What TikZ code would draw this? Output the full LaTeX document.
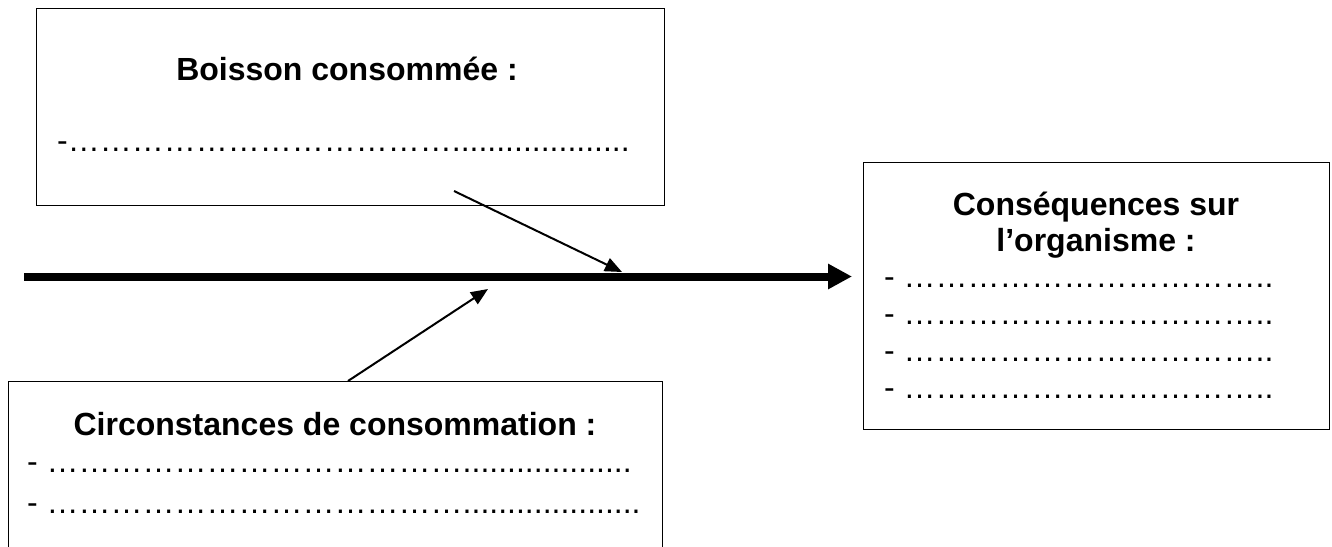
\documentclass[tikz,border=0pt]{standalone}
\usepackage{fontspec}
\setmainfont{Liberation Sans}
\usetikzlibrary{arrows.meta}
\tikzset{
  box/.style={draw=black, line width=1.3pt, fill=white, inner sep=0pt, anchor=north west},
  title/.style={font=\fontsize{32pt}{36pt}\selectfont\bfseries, inner sep=0pt, anchor=base},
  dotline/.style={font=\fontsize{32pt}{36pt}\selectfont, inner sep=0pt, anchor=base west},
  link/.style={line width=2pt, -{Triangle[length=17pt,width=14pt]}},
  spine/.style={line width=8pt, -{Triangle[length=24pt,width=24pt]}}
}
\begin{document}
\begin{tikzpicture}[x=1pt,y=-1pt]
\clip (0,0) rectangle (1332,546);
\fill[white] (0,0) rectangle (1332,546);
% boxes
\node[box, minimum width=628pt, minimum height=197pt] (b1) at (36,8) {};
\node[box, minimum width=466pt, minimum height=267pt] (b2) at (863,162) {};
\node[box, minimum width=654pt, minimum height=240pt] (b3) at (8,381) {};
% box 1 text
\node[title] (t1) at (347,80) {Boisson consommée :};
\node[dotline] (d1) at (57,151) {-{…………}{…………}{…………}{..........}{..........}};
% box 2 text
\node[title] (t2a) at (1096,215) {Conséquences sur};
\node[title] (t2b) at (1096,251) {l’organisme :};
\node[dotline] (d2a) at (884,287) {- {…………}{…………}{………}..};
\node[dotline] (d2b) at (884,324) {- {…………}{…………}{………}..};
\node[dotline] (d2c) at (884,361) {- {…………}{…………}{………}..};
\node[dotline] (d2d) at (884,398) {- {…………}{…………}{………}..};
% box 3 text
\node[title] (t3) at (335,435) {Circonstances de consommation :};
\node[dotline] (d3a) at (27,472) {- {…………}{…………}{…………}{…}{..........}{.........}};
\node[dotline] (d3b) at (27,513) {- {…………}{…………}{…………}{…}{..........}{..........}};
% spine
\coordinate (s0) at (24,276.5);
\coordinate (s1) at (852,276.5);
\draw[spine] (s0) -- (s1);
% branch arrows
\coordinate (a1s) at (454,191);
\coordinate (a1e) at (622,272);
\draw[link] (a1s) -- (a1e);
\coordinate (a2s) at (348,381);
\coordinate (a2e) at (488,289);
\draw[link] (a2s) -- (a2e);
\end{tikzpicture}
\end{document}
